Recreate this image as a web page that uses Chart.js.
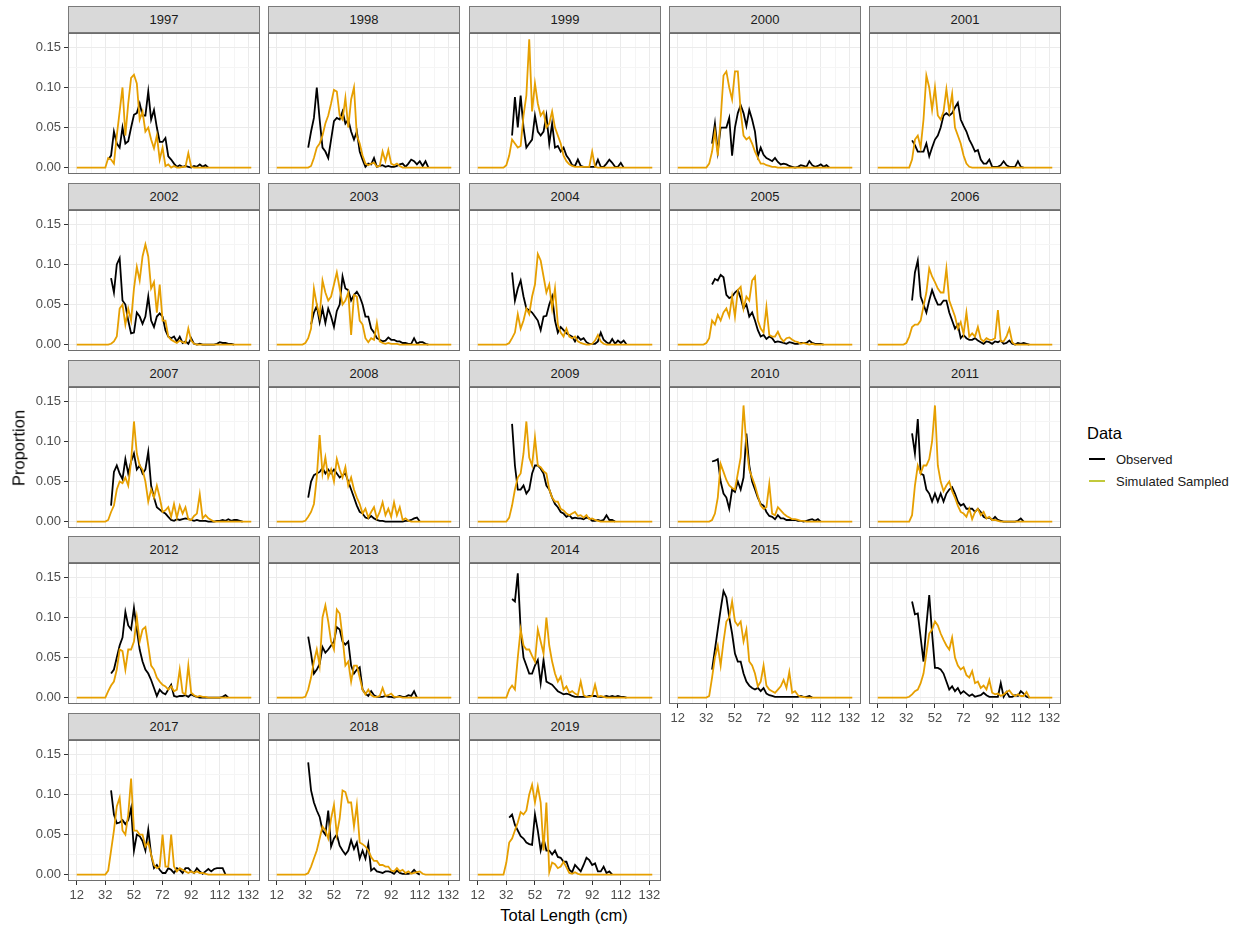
<!DOCTYPE html>
<html>
<head>
<meta charset="utf-8">
<script src="https://cdn.jsdelivr.net/npm/chart.js@4.4.0/dist/chart.umd.min.js"></script>
<style>
  body { margin: 0; background: #fff; font-family: 'Liberation Sans', Arial, sans-serif; }
  #fig { position: relative; width: 1245px; height: 928px; overflow: hidden; background: #fff; }
  #fig canvas { position: absolute; }
  .strip { position: absolute; box-sizing: border-box; background: #d9d9d9; border: 1px solid #7a7a7a;
           color: #1a1a1a; font-size: 13px; text-align: center; line-height: 25px; }
  .title { position: absolute; font-size: 16.5px; color: #000; white-space: nowrap; }
  .key { position: absolute; width: 16px; height: 2px; }
  .keytext { position: absolute; font-size: 13px; color: #1a1a1a; white-space: nowrap; }
</style>
</head>
<body>
<div id="fig"></div>
<script>
// one facet per year
const YEARS = [1997, 1998, 1999, 2000, 2001, 2002, 2003, 2004, 2005, 2006, 2007, 2008,
  2009, 2010, 2011, 2012, 2013, 2014, 2015, 2016, 2017, 2018, 2019];

// observed proportions, 2 cm bins starting at OBS_START (cm)
const OBS_START = [34, 34, 36, 36, 36, 36, 36, 36, 36, 36, 36, 34, 36, 36, 36, 36, 34, 36, 36, 36, 36, 34, 34];
const OBSERVED = [
  [0.01,0.015,0.045,0.03,0.025,0.05,0.03,0.033,0.05,0.066,0.068,0.08,0.065,0.065,0.095,0.06,0.072,0.05,0.032,0.032,0.037,0.014,0.01,0.005,0.001,0.003,0.001,0.002,0.001,0,0.002,0.001,0.004,0.001,0.003,0],
  [0.025,0.045,0.062,0.1,0.06,0.025,0.02,0.012,0.035,0.058,0.062,0.06,0.07,0.055,0.06,0.045,0.035,0.045,0.02,0.01,0.001,0.005,0.004,0.012,0.001,0.002,0.003,0.001,0.002,0.001,0.001,0.002,0.004,0.005,0.001,0.005,0.01,0.008,0.004,0.008,0.002,0.008,0],
  [0.04,0.088,0.05,0.09,0.05,0.025,0.03,0.035,0.065,0.045,0.04,0.045,0.065,0.03,0.055,0.025,0.027,0.02,0.025,0.015,0.01,0.003,0.002,0.01,0.002,0.001,0.001,0.001,0.001,0.001,0.01,0.001,0.001,0.005,0.01,0.006,0.001,0.001,0.006,0],
  [0.03,0.055,0.02,0.05,0.05,0.05,0.062,0.015,0.05,0.068,0.078,0.068,0.052,0.072,0.06,0.045,0.014,0.025,0.016,0.012,0.01,0.008,0.012,0.007,0.004,0.005,0.004,0.002,0.001,0,0.001,0.003,0.002,0.001,0.008,0.003,0.001,0.002,0.004,0.001,0.003,0],
  [0.034,0.028,0.02,0.02,0.02,0.03,0.014,0.025,0.035,0.04,0.05,0.065,0.068,0.065,0.068,0.075,0.081,0.06,0.052,0.045,0.035,0.028,0.02,0.022,0.01,0.005,0.005,0.01,0.001,0.001,0.001,0.003,0.008,0.003,0.001,0.001,0.001,0.008,0.001,0],
  [0.083,0.065,0.1,0.108,0.055,0.05,0.03,0.014,0.015,0.04,0.035,0.026,0.035,0.06,0.03,0.022,0.035,0.039,0.035,0.018,0.01,0.008,0.01,0.004,0.01,0.002,0.004,0.001,0.008,0.001,0,0.001,0,0,0,0,0,0.001,0.003,0.002,0.002,0.001,0.001,0],
  [0.025,0.04,0.048,0.028,0.045,0.027,0.045,0.035,0.022,0.042,0.05,0.085,0.07,0.068,0.055,0.062,0.066,0.06,0.05,0.035,0.035,0.02,0.015,0.008,0.006,0.004,0.005,0.009,0.006,0.006,0.004,0.004,0.002,0.002,0.001,0.001,0.008,0.001,0.003,0.003,0.001,0],
  [0.09,0.055,0.07,0.08,0.06,0.045,0.043,0.04,0.035,0.03,0.018,0.035,0.036,0.05,0.06,0.03,0.015,0.022,0.018,0.014,0.012,0.01,0.004,0.01,0.006,0.008,0.003,0.001,0.001,0.001,0.004,0.015,0.006,0.003,0.001,0.007,0.001,0.005,0.002,0.005,0],
  [0.075,0.082,0.08,0.087,0.084,0.062,0.058,0.06,0.065,0.068,0.058,0.045,0.05,0.035,0.04,0.03,0.018,0.01,0.012,0.007,0.01,0.008,0.003,0.004,0.003,0.002,0.001,0.003,0.002,0.001,0.001,0.002,0.002,0.002,0.005,0.002,0.001,0.001,0.001,0],
  [0.055,0.09,0.105,0.06,0.05,0.04,0.055,0.068,0.058,0.05,0.05,0.055,0.055,0.04,0.03,0.02,0.025,0.008,0.012,0.008,0.006,0.006,0.008,0.005,0.003,0.001,0.004,0.003,0.001,0.004,0.003,0.005,0.001,0.002,0.005,0.001,0,0.002,0.001,0.002,0.001,0],
  [0.02,0.062,0.07,0.06,0.053,0.078,0.06,0.075,0.085,0.065,0.07,0.06,0.065,0.087,0.045,0.03,0.018,0.015,0.012,0.01,0.006,0.002,0.001,0.003,0.002,0.003,0.004,0.003,0.002,0.001,0.002,0.001,0.001,0.001,0,0,0,0.001,0.001,0.002,0.001,0.003,0.001,0.002,0.002,0.001,0],
  [0.03,0.05,0.058,0.06,0.062,0.067,0.06,0.065,0.06,0.065,0.06,0.055,0.058,0.06,0.05,0.04,0.03,0.02,0.012,0.01,0.005,0.004,0.007,0.004,0.002,0.001,0.001,0,0,0,0,0,0,0,0.001,0.001,0.002,0.004,0.005,0],
  [0.122,0.07,0.04,0.04,0.045,0.035,0.04,0.06,0.07,0.07,0.066,0.06,0.045,0.04,0.03,0.022,0.018,0.012,0.01,0.006,0.008,0.004,0.005,0.004,0.004,0.003,0.005,0.004,0.001,0.001,0.002,0.001,0.002,0.008,0.002,0.002,0],
  [0.075,0.076,0.078,0.05,0.035,0.03,0.016,0.04,0.037,0.05,0.04,0.055,0.11,0.07,0.05,0.04,0.03,0.022,0.02,0.012,0.007,0.006,0.003,0.008,0.004,0.004,0.002,0.002,0.002,0.002,0.001,0.001,0,0.001,0.002,0.003,0.001,0.003,0],
  [0.11,0.085,0.128,0.06,0.058,0.04,0.035,0.025,0.035,0.025,0.035,0.025,0.035,0.04,0.043,0.035,0.025,0.02,0.022,0.016,0.016,0.016,0.012,0.016,0.012,0.006,0.004,0.005,0.002,0.006,0.002,0.001,0,0,0,0,0,0.001,0.004,0],
  [0.03,0.035,0.05,0.065,0.075,0.107,0.09,0.085,0.112,0.085,0.06,0.045,0.035,0.03,0.022,0.012,0.002,0.01,0.006,0.004,0.01,0.016,0.002,0.001,0.002,0.002,0.003,0.001,0.004,0.002,0.001,0,0,0,0,0,0,0,0,0.001,0.003,0],
  [0.076,0.055,0.03,0.035,0.042,0.063,0.056,0.06,0.065,0.07,0.088,0.085,0.07,0.066,0.07,0.04,0.03,0.035,0.038,0.01,0.005,0.002,0.008,0.003,0.001,0.001,0.001,0.002,0.001,0.001,0,0.001,0.002,0.001,0.001,0.003,0.002,0.008,0],
  [0.123,0.12,0.155,0.085,0.05,0.04,0.03,0.03,0.04,0.047,0.018,0.047,0.02,0.018,0.016,0.012,0.008,0.006,0.004,0.005,0.004,0.002,0.001,0.001,0.001,0.001,0.001,0.002,0.002,0.002,0.001,0.001,0.001,0.002,0.001,0.002,0.001,0.002,0.001,0.001,0],
  [0.035,0.06,0.085,0.11,0.133,0.125,0.1,0.08,0.055,0.045,0.045,0.03,0.02,0.015,0.012,0.01,0.012,0.008,0.012,0.005,0.003,0.002,0.001,0.001,0.001,0.001,0.001,0.001,0.001,0.001,0.001,0.002,0.001,0.001,0.002,0],
  [0.12,0.104,0.105,0.075,0.045,0.09,0.128,0.08,0.037,0.037,0.035,0.03,0.02,0.01,0.014,0.008,0.012,0.005,0.008,0.005,0.002,0.004,0.001,0.002,0.003,0.006,0.003,0.001,0.001,0.001,0.001,0.018,0.001,0.007,0.001,0.001,0.003,0.002,0.008,0.005,0.001,0],
  [0.105,0.075,0.064,0.065,0.068,0.063,0.068,0.083,0.03,0.05,0.048,0.042,0.03,0.056,0.025,0.008,0.012,0.006,0.002,0.002,0.008,0.006,0.002,0.008,0.006,0.002,0.008,0.008,0.004,0.002,0.008,0.004,0.001,0.004,0.007,0.004,0.007,0.008,0.008,0.008,0],
  [0.14,0.105,0.09,0.08,0.072,0.055,0.05,0.08,0.035,0.045,0.05,0.036,0.03,0.025,0.03,0.043,0.032,0.04,0.02,0.03,0.02,0.038,0.005,0.008,0.004,0.003,0.002,0.004,0.004,0.003,0.001,0.005,0.002,0.001,0.001,0.001,0.002,0.006,0.002,0],
  [0.071,0.075,0.062,0.055,0.048,0.045,0.04,0.038,0.037,0.075,0.055,0.03,0.045,0.03,0.03,0.025,0.03,0.022,0.021,0.016,0.016,0.006,0.003,0.012,0.008,0.004,0.012,0.021,0.018,0.012,0.014,0.004,0.004,0.01,0.002,0.004,0]
];

// simulated sampled proportions, 2 cm bins starting at SIM_START (cm); flat at 0 out to SIM_ENDS
const SIM_ENDS = [12, 134];
const SIM_START = [32, 34, 30, 32, 34, 34, 30, 32, 30, 30, 32, 30, 32, 34, 34, 32, 30, 32, 32, 32, 32, 32, 30];
const SIMULATED = [
  [0,0.012,0.01,0.005,0.04,0.07,0.1,0.04,0.08,0.112,0.116,0.105,0.06,0.07,0.045,0.05,0.035,0.024,0.04,0.01,0.025,0.002,0.004,0,0.002,0,0,0.001,0.001,0.018,0.001,0],
  [0,0.002,0.012,0.025,0.03,0.04,0.055,0.065,0.08,0.097,0.095,0.065,0.06,0.087,0.05,0.085,0.1,0.04,0.03,0.015,0.005,0.003,0.005,0.006,0.001,0.002,0.02,0.008,0.022,0.005,0.003,0.005,0.002,0],
  [0,0.003,0.015,0.035,0.03,0.025,0.027,0.065,0.09,0.16,0.07,0.105,0.08,0.065,0.07,0.05,0.055,0.07,0.05,0.04,0.03,0.015,0.008,0.004,0.002,0.001,0.001,0.001,0.001,0.001,0.001,0.02,0.001,0],
  [0,0.005,0.02,0.045,0.015,0.06,0.115,0.12,0.1,0.085,0.12,0.12,0.07,0.04,0.035,0.038,0.03,0.02,0.012,0.005,0.005,0.003,0.002,0.001,0.001,0],
  [0,0.01,0.035,0.04,0.025,0.06,0.115,0.1,0.072,0.1,0.065,0.06,0.07,0.098,0.07,0.092,0.05,0.04,0.03,0.015,0.005,0.001,0],
  [0,0.001,0.004,0.01,0.045,0.05,0.025,0.045,0.03,0.07,0.097,0.08,0.11,0.125,0.11,0.07,0.078,0.04,0.075,0.03,0.03,0.01,0.006,0.004,0.002,0.005,0.003,0.002,0.02,0.005,0.001,0],
  [0,0.002,0.008,0.02,0.07,0.05,0.035,0.08,0.065,0.055,0.06,0.075,0.09,0.07,0.05,0.055,0.065,0.012,0.062,0.06,0.03,0.025,0.008,0.003,0.008,0.006,0.027,0.004,0.002,0.001,0.002,0.001,0.001,0.001,0],
  [0,0.002,0.008,0.015,0.038,0.02,0.03,0.045,0.038,0.06,0.075,0.113,0.105,0.085,0.065,0.075,0.045,0.07,0.025,0.015,0.01,0.02,0.01,0.008,0.01,0.004,0.002,0.001,0,0,0.001,0.005,0.012,0.004,0.001,0],
  [0,0.002,0.008,0.03,0.025,0.037,0.03,0.04,0.045,0.035,0.06,0.035,0.068,0.072,0.045,0.06,0.055,0.08,0.085,0.03,0.02,0.015,0.047,0.012,0.01,0.01,0.016,0.008,0.004,0.008,0.009,0.006,0.004,0.003,0.001,0.002,0.001,0,0.001,0],
  [0,0.002,0.01,0.022,0.025,0.025,0.03,0.048,0.065,0.095,0.085,0.078,0.07,0.065,0.065,0.095,0.055,0.045,0.035,0.02,0.028,0.013,0.04,0.01,0.014,0.01,0.022,0.007,0.004,0.008,0.006,0.006,0.008,0.043,0.004,0.004,0.01,0.02,0.003,0],
  [0,0.002,0.012,0.02,0.04,0.05,0.048,0.055,0.045,0.075,0.125,0.085,0.07,0.065,0.05,0.025,0.04,0.03,0.045,0.03,0.012,0.014,0.018,0.006,0.022,0.005,0.02,0.01,0.018,0.003,0.002,0.007,0.01,0.034,0.004,0.008,0.004,0.002,0],
  [0,0.001,0.006,0.012,0.022,0.055,0.108,0.06,0.08,0.055,0.065,0.05,0.078,0.065,0.055,0.068,0.045,0.055,0.04,0.03,0.022,0.01,0.016,0.005,0.012,0.018,0.004,0.012,0.024,0.008,0.016,0.006,0.024,0.008,0.018,0.002,0.004,0.001,0],
  [0,0.005,0.02,0.04,0.055,0.06,0.085,0.125,0.08,0.07,0.105,0.07,0.068,0.063,0.06,0.04,0.03,0.025,0.025,0.016,0.014,0.01,0.008,0.01,0.012,0.007,0.008,0.005,0.008,0.003,0.004,0.002,0.001,0],
  [0,0.002,0.01,0.03,0.072,0.062,0.052,0.045,0.042,0.04,0.06,0.08,0.145,0.095,0.065,0.055,0.045,0.032,0.02,0.016,0.018,0.047,0.01,0.008,0.018,0.014,0.01,0.007,0.005,0.003,0.003,0.002,0.001,0.001,0],
  [0,0.008,0.045,0.07,0.06,0.07,0.07,0.078,0.1,0.145,0.07,0.05,0.038,0.045,0.05,0.038,0.03,0.02,0.012,0.01,0.006,0.016,0.003,0.012,0.016,0.008,0.012,0.004,0.006,0.002,0.002,0.001,0],
  [0,0.008,0.015,0.02,0.035,0.06,0.058,0.035,0.06,0.06,0.07,0.1,0.07,0.085,0.088,0.065,0.04,0.035,0.025,0.02,0.016,0.014,0.01,0.014,0.008,0.01,0.035,0.006,0.004,0.04,0.006,0.003,0.001,0.002,0.001,0.001,0],
  [0,0.001,0.01,0.025,0.045,0.06,0.04,0.1,0.115,0.095,0.07,0.06,0.11,0.105,0.075,0.04,0.045,0.02,0.04,0.04,0.025,0.01,0.004,0.01,0.003,0.001,0.001,0.002,0.012,0.002,0.003,0.005,0.001,0.001,0.001,0],
  [0,0.01,0.015,0.01,0.05,0.085,0.065,0.06,0.06,0.052,0.045,0.085,0.07,0.055,0.1,0.065,0.045,0.03,0.02,0.026,0.01,0.014,0.006,0.008,0.005,0.003,0.02,0.003,0.001,0.001,0.002,0.016,0.001,0.002,0.001,0],
  [0,0.002,0.025,0.05,0.065,0.04,0.07,0.095,0.1,0.12,0.095,0.09,0.095,0.07,0.085,0.045,0.04,0.03,0.014,0.02,0.04,0.015,0.01,0.008,0.006,0.01,0.014,0.022,0.012,0.032,0.006,0.008,0.003,0.001,0.001,0],
  [0,0.001,0.004,0.008,0.01,0.018,0.03,0.055,0.08,0.085,0.095,0.09,0.08,0.072,0.065,0.06,0.075,0.05,0.04,0.035,0.038,0.028,0.025,0.033,0.018,0.02,0.012,0.015,0.01,0.022,0.006,0.004,0.005,0.002,0.004,0.007,0.009,0.004,0.002,0.004,0.002,0.002,0.007,0],
  [0,0.005,0.03,0.055,0.085,0.096,0.055,0.05,0.075,0.12,0.055,0.055,0.05,0.05,0.035,0.04,0.025,0.012,0.008,0.01,0.05,0.01,0.01,0.05,0.01,0.004,0.008,0.006,0.004,0.002,0.004,0.002,0.004,0.002,0.002,0.001,0],
  [0,0.002,0.01,0.02,0.03,0.045,0.06,0.055,0.045,0.07,0.087,0.05,0.07,0.105,0.103,0.09,0.09,0.06,0.087,0.04,0.038,0.035,0.03,0.022,0.017,0.017,0.012,0.012,0.01,0.01,0.005,0.004,0.008,0.004,0.006,0.002,0.004,0.001,0.002,0.003,0.004,0.001,0],
  [0,0.015,0.04,0.045,0.055,0.065,0.078,0.075,0.08,0.1,0.112,0.09,0.11,0.09,0.03,0.09,0.003,0.015,0.013,0.008,0.01,0.016,0.009,0.002,0.001,0.003,0.001,0]
];

const X_TICKS = [12, 22, 32, 42, 52, 62, 72, 82, 92, 102, 112, 122, 132];
const X_MAJOR = [12, 32, 52, 72, 92, 112, 132];
const Y_TICKS = [0, 0.025, 0.05, 0.075, 0.1, 0.125, 0.15];
const Y_MAJOR = [0, 0.05, 0.1, 0.15];

const FONT = "'Liberation Sans', Arial, sans-serif";
const COL_LEFT = [68, 268, 469, 669, 869];
const ROW_TOP = [6, 183, 360, 536, 713];
const PANEL_W = 192, STRIP_H = 27, PLOT_H = 141;
const PAD_L = 50, PAD_B = 24;

const fig = document.getElementById('fig');

const isMajor = (list, v) => list.some(m => Math.abs(m - v) < 1e-9);

const panelBorder = {
  id: 'panelBorder',
  afterDraw(chart) {
    const a = chart.chartArea, ctx = chart.ctx;
    ctx.save();
    ctx.strokeStyle = '#6e6e6e';
    ctx.lineWidth = 1;
    ctx.strokeRect(a.left + 0.5, a.top + 0.5, a.right - a.left - 1, a.bottom - a.top - 1);
    ctx.restore();
  }
};

// fixed axis sizes and no label overhang padding, so every panel's plot area is the same box
function fixSize(size, horizontal) {
  return s => {
    if (horizontal) s.height = size; else s.width = size;
    s.paddingLeft = 0; s.paddingRight = 0; s.paddingTop = 0; s.paddingBottom = 0;
  };
}

function binPoints(start, vals) {
  return vals.map((v, i) => ({ x: start + 2 * i, y: v }));
}

YEARS.forEach((year, i) => {
  const r = Math.floor(i / 5), c = i % 5;
  const left = COL_LEFT[c], top = ROW_TOP[r];
  const showY = c === 0;
  const showX = r === 4 || (r === 3 && c >= 3);

  const strip = document.createElement('div');
  strip.className = 'strip';
  strip.style.left = left + 'px';
  strip.style.top = top + 'px';
  strip.style.width = PANEL_W + 'px';
  strip.style.height = STRIP_H + 'px';
  strip.textContent = year;
  fig.appendChild(strip);

  const cv = document.createElement('canvas');
  const padL = showY ? PAD_L : 0, padB = showX ? PAD_B : 0;
  cv.width = PANEL_W + padL;
  cv.height = PLOT_H + padB;
  cv.style.left = (left - padL) + 'px';
  cv.style.top = (top + STRIP_H) + 'px';
  fig.appendChild(cv);

  const simPts = [{ x: SIM_ENDS[0], y: 0 }, ...binPoints(SIM_START[i], SIMULATED[i]), { x: SIM_ENDS[1], y: 0 }];
  const obsPts = binPoints(OBS_START[i], OBSERVED[i]);

  new Chart(cv, {
    type: 'line',
    data: {
      datasets: [
        { label: 'Simulated Sampled', data: simPts, borderColor: '#E69F00', borderWidth: 1.8, pointRadius: 0, tension: 0 },
        { label: 'Observed', data: obsPts, borderColor: '#000000', borderWidth: 1.8, pointRadius: 0, tension: 0 }
      ]
    },
    options: {
      responsive: false,
      animation: false,
      events: [],
      layout: { padding: 0 },
      plugins: { legend: { display: false }, tooltip: { enabled: false } },
      scales: {
        x: {
          type: 'linear', min: 5.9, max: 140.1,
          afterBuildTicks: s => { s.ticks = X_TICKS.map(v => ({ value: v })); },
          afterFit: fixSize(padB, true),
          border: { display: false },
          grid: {
            color: ctx => isMajor(X_MAJOR, ctx.tick.value) ? '#ebebeb' : '#f5f5f5',
            lineWidth: 1,
            drawTicks: showX,
            tickLength: 4,
            tickColor: ctx => isMajor(X_MAJOR, ctx.tick.value) ? '#333333' : 'rgba(0,0,0,0)'
          },
          ticks: {
            display: showX, autoSkip: false, maxRotation: 0, padding: 3,
            color: '#4d4d4d', font: { size: 13, family: FONT },
            callback: v => isMajor(X_MAJOR, v) ? String(v) : ''
          }
        },
        y: {
          type: 'linear', min: -0.008, max: 0.168,
          afterBuildTicks: s => { s.ticks = Y_TICKS.map(v => ({ value: v })); },
          afterFit: fixSize(padL, false),
          border: { display: false },
          grid: {
            color: ctx => isMajor(Y_MAJOR, ctx.tick.value) ? '#ebebeb' : '#f5f5f5',
            lineWidth: 1,
            drawTicks: showY,
            tickLength: 4,
            tickColor: ctx => isMajor(Y_MAJOR, ctx.tick.value) ? '#333333' : 'rgba(0,0,0,0)'
          },
          ticks: {
            display: showY, autoSkip: false, padding: 3,
            color: '#4d4d4d', font: { size: 13, family: FONT },
            callback: v => isMajor(Y_MAJOR, v) ? v.toFixed(2) : ''
          }
        }
      }
    },
    plugins: [panelBorder]
  });
});

// axis titles
const yTitle = document.createElement('div');
yTitle.className = 'title';
yTitle.textContent = 'Proportion';
yTitle.style.left = '19px';
yTitle.style.top = '448px';
yTitle.style.transform = 'translate(-50%, -50%) rotate(-90deg)';
fig.appendChild(yTitle);

const xTitle = document.createElement('div');
xTitle.className = 'title';
xTitle.textContent = 'Total Length (cm)';
xTitle.style.left = '564px';
xTitle.style.top = '915px';
xTitle.style.transform = 'translate(-50%, -50%)';
fig.appendChild(xTitle);

// legend
const legTitle = document.createElement('div');
legTitle.className = 'title';
legTitle.textContent = 'Data';
legTitle.style.left = '1087px';
legTitle.style.top = '433px';
legTitle.style.transform = 'translateY(-50%)';
fig.appendChild(legTitle);

[['Observed', '#000000', 459], ['Simulated Sampled', '#C2C93B', 481]].forEach(([name, col, y]) => {
  const k = document.createElement('div');
  k.className = 'key';
  k.style.left = '1089px';
  k.style.top = (y - 1) + 'px';
  k.style.background = col;
  fig.appendChild(k);
  const t = document.createElement('div');
  t.className = 'keytext';
  t.textContent = name;
  t.style.left = '1116px';
  t.style.top = y + 'px';
  t.style.transform = 'translateY(-50%)';
  fig.appendChild(t);
});
</script>
</body>
</html>
